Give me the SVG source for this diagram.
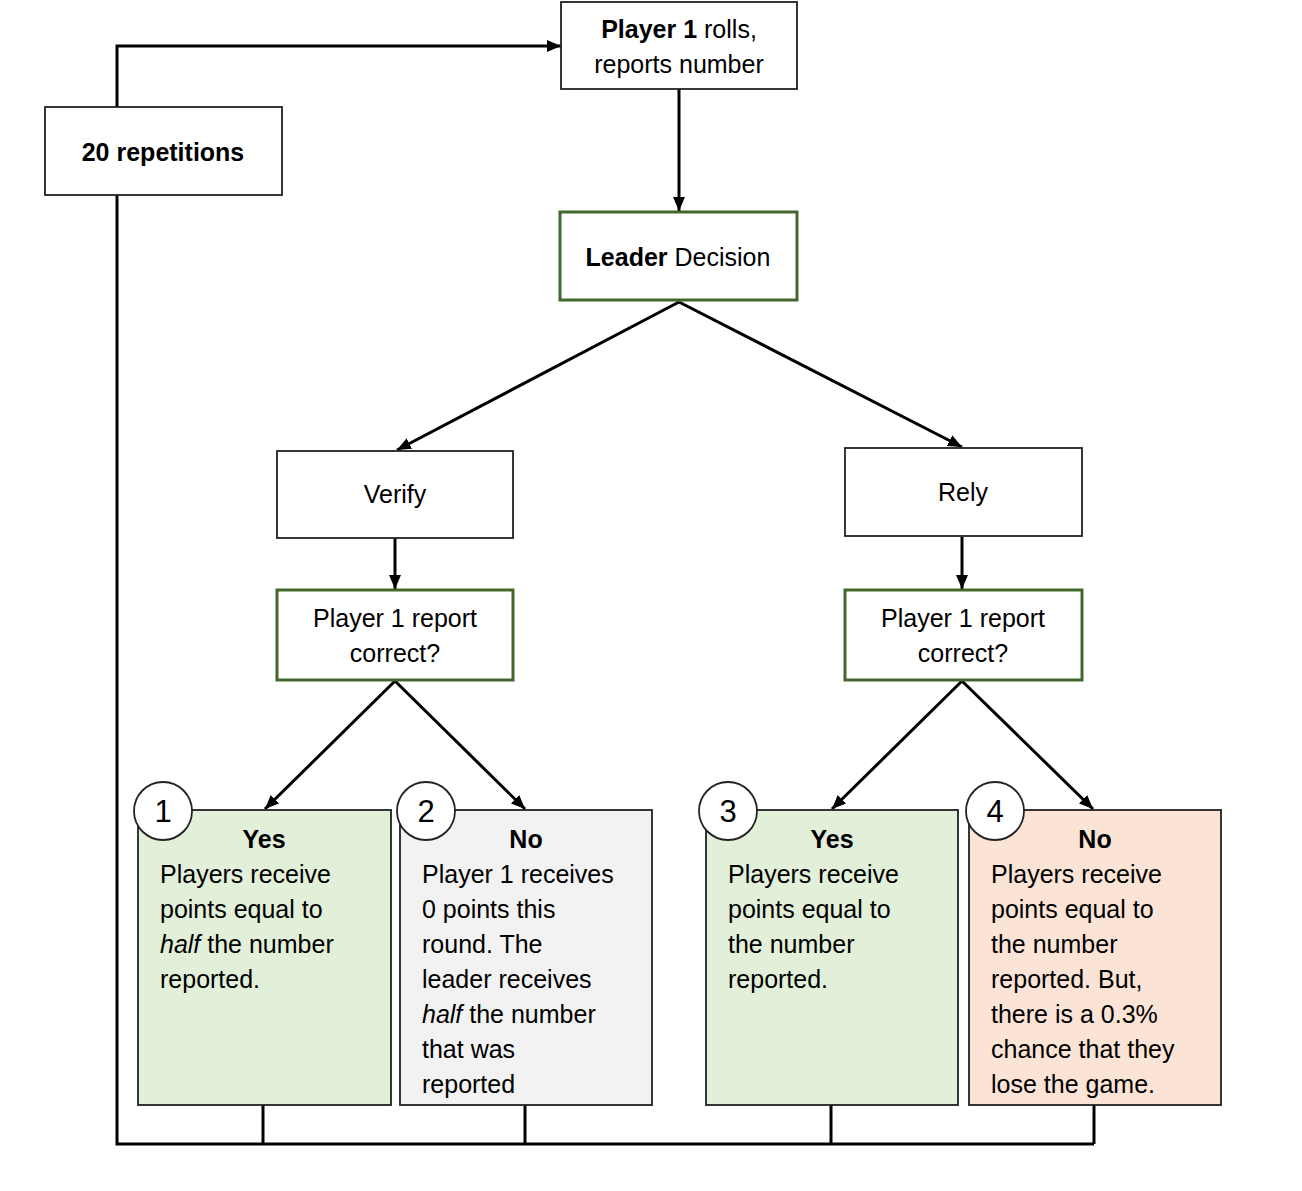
<svg xmlns="http://www.w3.org/2000/svg" width="1302" height="1191" viewBox="0 0 1302 1191">
<style>
  text { font-family: "Liberation Sans", Arial, sans-serif; font-size: 25px; fill: #000; }
  .c { text-anchor: middle; }
  .b { font-weight: bold; }
  .i { font-style: italic; }
  .box { fill: #fff; stroke: #222; stroke-width: 1.8; }
  .gbox { fill: #fff; stroke: #43682b; stroke-width: 3; }
  .out { stroke: #222; stroke-width: 1.8; }
  .num { fill: #fff; stroke: #222; stroke-width: 1.8; }
  .numt { font-size: 31px; text-anchor: middle; }
  .conn { fill: none; stroke: #000; stroke-width: 3; }
</style>
<defs>
  <marker id="arr" viewBox="0 0 14 12" refX="14" refY="6" markerWidth="14" markerHeight="12" markerUnits="userSpaceOnUse" orient="auto">
    <path d="M0,0 L14,6 L0,12 z" fill="#000"/>
  </marker>
</defs>

<g id="connectors">
  <polyline class="conn" points="117,107 117,46 561,46" marker-end="url(#arr)"/>
  <polyline class="conn" points="117,195 117,1144 1094,1144"/>
  <line class="conn" x1="263" y1="1105" x2="263" y2="1144"/>
  <line class="conn" x1="525" y1="1105" x2="525" y2="1144"/>
  <line class="conn" x1="831" y1="1105" x2="831" y2="1144"/>
  <line class="conn" x1="1094" y1="1105" x2="1094" y2="1144"/>
  <line class="conn" x1="679" y1="89" x2="679" y2="211" marker-end="url(#arr)"/>
  <line class="conn" x1="679" y1="302" x2="397" y2="450" marker-end="url(#arr)"/>
  <line class="conn" x1="679" y1="302" x2="962" y2="447" marker-end="url(#arr)"/>
  <line class="conn" x1="395" y1="538" x2="395" y2="589" marker-end="url(#arr)"/>
  <line class="conn" x1="962" y1="537" x2="962" y2="589" marker-end="url(#arr)"/>
  <line class="conn" x1="395" y1="681" x2="265" y2="809" marker-end="url(#arr)"/>
  <line class="conn" x1="395" y1="681" x2="525" y2="809" marker-end="url(#arr)"/>
  <line class="conn" x1="962" y1="681" x2="832" y2="809" marker-end="url(#arr)"/>
  <line class="conn" x1="962" y1="681" x2="1093" y2="809" marker-end="url(#arr)"/>
</g>

<g id="player1-rolls">
  <rect class="box" x="561" y="2" width="236" height="87"/>
  <text class="c" x="679" y="38"><tspan class="b">Player 1</tspan> rolls,</text>
  <text class="c" x="679" y="73">reports number</text>
</g>

<g id="repetitions">
  <rect class="box" x="45" y="107" width="237" height="88"/>
  <text class="c b" x="163" y="161">20 repetitions</text>
</g>

<g id="leader-decision">
  <rect class="gbox" x="560" y="212" width="237" height="88"/>
  <text class="c" x="678" y="266"><tspan class="b">Leader</tspan> Decision</text>
</g>

<g id="verify">
  <rect class="box" x="277" y="451" width="236" height="87"/>
  <text class="c" x="395" y="503">Verify</text>
</g>

<g id="rely">
  <rect class="box" x="845" y="448" width="237" height="88"/>
  <text class="c" x="963" y="501">Rely</text>
</g>

<g id="check-verify">
  <rect class="gbox" x="277" y="590" width="236" height="90"/>
  <text class="c" x="395" y="627">Player 1 report</text>
  <text class="c" x="395" y="662">correct?</text>
</g>

<g id="check-rely">
  <rect class="gbox" x="845" y="590" width="237" height="90"/>
  <text class="c" x="963" y="627">Player 1 report</text>
  <text class="c" x="963" y="662">correct?</text>
</g>

<g id="outcome1">
  <rect class="out" x="138" y="810" width="253" height="295" fill="#e2efd9"/>
  <text class="c b" x="264" y="848">Yes</text>
  <text x="160" y="883">Players receive</text>
  <text x="160" y="918">points equal to</text>
  <text x="160" y="953"><tspan class="i">half</tspan> the number</text>
  <text x="160" y="988">reported.</text>
  <circle class="num" cx="163" cy="811" r="29"/>
  <text class="numt" x="163" y="822">1</text>
</g>

<g id="outcome2">
  <rect class="out" x="400" y="810" width="252" height="295" fill="#f2f2f2"/>
  <text class="c b" x="526" y="848">No</text>
  <text x="422" y="883">Player 1 receives</text>
  <text x="422" y="918">0 points this</text>
  <text x="422" y="953">round. The</text>
  <text x="422" y="988">leader receives</text>
  <text x="422" y="1023"><tspan class="i">half</tspan> the number</text>
  <text x="422" y="1058">that was</text>
  <text x="422" y="1093">reported</text>
  <circle class="num" cx="426" cy="811" r="29"/>
  <text class="numt" x="426" y="822">2</text>
</g>

<g id="outcome3">
  <rect class="out" x="706" y="810" width="252" height="295" fill="#e2efd9"/>
  <text class="c b" x="832" y="848">Yes</text>
  <text x="728" y="883">Players receive</text>
  <text x="728" y="918">points equal to</text>
  <text x="728" y="953">the number</text>
  <text x="728" y="988">reported.</text>
  <circle class="num" cx="728" cy="811" r="29"/>
  <text class="numt" x="728" y="822">3</text>
</g>

<g id="outcome4">
  <rect class="out" x="969" y="810" width="252" height="295" fill="#fbe4d5"/>
  <text class="c b" x="1095" y="848">No</text>
  <text x="991" y="883">Players receive</text>
  <text x="991" y="918">points equal to</text>
  <text x="991" y="953">the number</text>
  <text x="991" y="988">reported. But,</text>
  <text x="991" y="1023">there is a 0.3%</text>
  <text x="991" y="1058">chance that they</text>
  <text x="991" y="1093">lose the game.</text>
  <circle class="num" cx="995" cy="811" r="29"/>
  <text class="numt" x="995" y="822">4</text>
</g>
</svg>
